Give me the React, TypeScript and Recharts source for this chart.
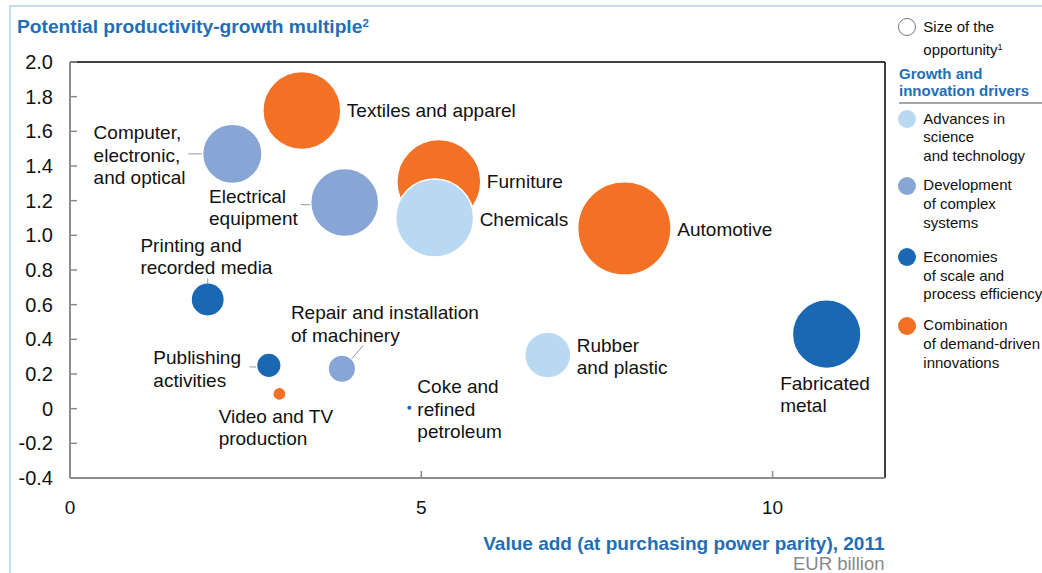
import React from 'react';
import {
  ScatterChart,
  Scatter,
  XAxis,
  YAxis,
  ZAxis,
  ReferenceLine
} from 'recharts';

// industries, value add (EUR bn), productivity-growth multiple, size of opportunity, driver
const INDUSTRIES = [
  'Textiles and apparel',
  'Furniture',
  'Automotive',
  'Video and TV production',
  'Chemicals',
  'Rubber and plastic',
  'Computer, electronic, and optical',
  'Electrical equipment',
  'Repair and installation of machinery',
  'Printing and recorded media',
  'Publishing activities',
  'Coke and refined petroleum',
  'Fabricated metal'
];
const VALUE_ADD = [3.3, 5.25, 7.89, 2.98, 5.19, 6.8, 2.31, 3.91, 3.87, 1.96, 2.83, 4.83, 10.77];
const MULTIPLE = [1.72, 1.31, 1.04, 0.085, 1.1, 0.31, 1.47, 1.19, 0.23, 0.63, 0.25, 0.005, 0.43];
const OPPORTUNITY = [76, 88.2, 109, 2.2, 76, 26.5, 44.1, 57.8, 9.5, 13.9, 7.6, 0.2, 58.8];
const DRIVER = [3, 3, 3, 3, 0, 0, 1, 1, 1, 2, 2, 2, 2];

const DRIVERS = [
  ['Advances in', 'science', 'and technology'],
  ['Development', 'of complex', 'systems'],
  ['Economies', 'of scale and', 'process efficiency'],
  ['Combination', 'of demand-driven', 'innovations']
];
const DRIVER_COLORS = ['#B9D8F1', '#87A5D5', '#1B68B2', '#F37124'];
const DRAW_ORDER = [3, 0, 1, 2];

const X_TICKS = [0, 5, 10];
const Y_TICKS = [-0.4, -0.2, 0, 0.2, 0.4, 0.6, 0.8, 1.0, 1.2, 1.4, 1.6, 1.8, 2.0];

const rows = INDUSTRIES.map((name, i) => ({
  name,
  x: VALUE_ADD[i],
  y: MULTIPLE[i],
  z: OPPORTUNITY[i],
  driver: DRIVER[i]
}));

// label placement, offsets from the bubble centre
const LABELS: Record<string, { dx: number; dy: number; lines: string[]; leader?: number[] }> = {
  'Textiles and apparel': { dx: 45, dy: 0, lines: ['Textiles and apparel'] },
  'Furniture': { dx: 48, dy: 0, lines: ['Furniture'] },
  'Chemicals': { dx: 45, dy: 1, lines: ['Chemicals'] },
  'Automotive': { dx: 53, dy: 1.5, lines: ['Automotive'] },
  'Rubber and plastic': { dx: 29, dy: -9.5, lines: ['Rubber', 'and plastic'] },
  'Fabricated metal': { dx: -46.5, dy: 49.3, lines: ['Fabricated', 'metal'] },
  'Computer, electronic, and optical': {
    dx: -138.7, dy: -21.2, lines: ['Computer,', 'electronic,', 'and optical'], leader: [-44, 0, -30.5, 0]
  },
  'Electrical equipment': {
    dx: -135.7, dy: -6, lines: ['Electrical', 'equipment'], leader: [-44, 2.3, -34.3, 2.3]
  },
  'Printing and recorded media': {
    dx: -67.3, dy: -54.3, lines: ['Printing and', 'recorded media'], leader: [0, -21, 0, -16]
  },
  'Publishing activities': {
    dx: -115.5, dy: -7.4, lines: ['Publishing', 'activities'], leader: [-19.5, 1.6, -12.8, 1.6]
  },
  'Video and TV production': { dx: -60.7, dy: 22.4, lines: ['Video and TV', 'production'] },
  'Repair and installation of machinery': {
    dx: -51, dy: -56, lines: ['Repair and installation', 'of machinery'], leader: [9.7, -10, 21.3, -23.3]
  },
  'Coke and refined petroleum': { dx: 8, dy: -21.3, lines: ['Coke and', 'refined', 'petroleum'] }
};

const FONT = '"Liberation Sans", Arial, Helvetica, sans-serif';
const BLUE = '#1F6EB6';
const PLOT_LEFT = 70;
const PLOT_TOP = 62;
const PLOT_BOTTOM = 478;

const Bubble = (props: any) => {
  const { cx, cy, width, color } = props;
  const r = width / 2;
  if (r < 4) return <circle cx={cx} cy={cy} r={2} fill={color} />;
  return <circle cx={cx} cy={cy} r={r} fill={color} stroke="#fff" strokeWidth={1.5} />;
};

const BubbleLabel = (props: any) => {
  const { cx, cy, payload } = props;
  const l = LABELS[payload.name];
  if (!l) return <g />;
  return (
    <g>
      {l.leader && (
        <line
          x1={cx + l.leader[0]}
          y1={cy + l.leader[1]}
          x2={cx + l.leader[2]}
          y2={cy + l.leader[3]}
          stroke="#999"
          strokeWidth={1}
        />
      )}
      <text fontFamily={FONT} fontSize={19} fill="#111">
        {l.lines.map((s, i) => (
          <tspan key={i} x={cx + l.dx} y={cy + l.dy + i * 22.5 + 6.5}>
            {s}
          </tspan>
        ))}
      </text>
    </g>
  );
};

const XTick = (props: any) => {
  const { payload } = props;
  const c = payload.coordinate;
  return (
    <g>
      <line x1={c} x2={c} y1={PLOT_BOTTOM} y2={PLOT_BOTTOM - 7} stroke="#8c8c8c" strokeWidth={1.5} />
      <text x={c} y={PLOT_BOTTOM + 36} textAnchor="middle" fontFamily={FONT} fontSize={19} fill="#111">
        {payload.value}
      </text>
    </g>
  );
};

const YTick = (props: any) => {
  const { payload } = props;
  const c = payload.coordinate;
  const v = Number(payload.value);
  return (
    <g>
      <line x1={PLOT_LEFT} x2={PLOT_LEFT + 7} y1={c} y2={c} stroke="#8c8c8c" strokeWidth={1.5} />
      <text x={53} y={c + 7} textAnchor="end" fontFamily={FONT} fontSize={20} fill="#111">
        {Math.abs(v) < 1e-9 ? '0' : v.toFixed(1)}
      </text>
    </g>
  );
};

const abs = (left: number, top: number, extra: React.CSSProperties = {}): React.CSSProperties => ({
  position: 'absolute',
  left,
  top,
  whiteSpace: 'nowrap',
  ...extra
});

const App: React.FC = () => {
  return (
    <div
      style={{
        position: 'absolute',
        left: 0,
        top: 0,
        width: 1042,
        height: 573,
        overflow: 'hidden',
        background: '#fff',
        fontFamily: FONT
      }}
    >
      {/* light blue frame */}
      <div style={abs(10, 5, { width: 1032, height: 2, background: '#C3DDF2' })} />
      <div style={abs(9, 5, { width: 2, height: 568, background: '#C3DDF2' })} />

      <div style={abs(17, 12, { fontSize: 19.2, lineHeight: '22px', fontWeight: 'bold', color: BLUE })}>
        Potential productivity-growth multiple<sup style={{ fontSize: 11.5, verticalAlign: 6 }}>2</sup>
      </div>

      <ScatterChart width={1042} height={573} margin={{ top: PLOT_TOP, right: 157, bottom: 65, left: 0 }}>
        <XAxis
          type="number"
          dataKey="x"
          domain={[0, 11.6]}
          ticks={X_TICKS}
          height={30}
          tickLine={false}
          axisLine={{ stroke: '#8c8c8c', strokeWidth: 2 }}
          tick={<XTick />}
        />
        <YAxis
          type="number"
          dataKey="y"
          domain={[-0.4, 2.0]}
          ticks={Y_TICKS}
          width={PLOT_LEFT}
          tickLine={false}
          axisLine={{ stroke: '#8c8c8c', strokeWidth: 2 }}
          tick={<YTick />}
          interval={0}
        />
        <ZAxis type="number" dataKey="z" domain={[0, 110]} range={[0, Math.PI * 20 * 110]} />
        <ReferenceLine y={2.0} stroke="#000" strokeWidth={1.5} />
        <ReferenceLine x={11.6} stroke="#000" strokeWidth={1.5} />
        {DRAW_ORDER.map((d) => (
          <Scatter
            key={d}
            name={DRIVERS[d].join(' ')}
            data={rows.filter((r) => r.driver === d)}
            isAnimationActive={false}
            shape={(p: any) => <Bubble {...p} color={DRIVER_COLORS[d]} />}
          />
        ))}
        <Scatter
          name="labels"
          data={rows}
          isAnimationActive={false}
          legendType="none"
          shape={(p: any) => <BubbleLabel {...p} />}
        />
      </ScatterChart>

      <div
        style={abs(0, 533, {
          width: 884.5,
          textAlign: 'right',
          fontSize: 19,
          lineHeight: '22px',
          fontWeight: 'bold',
          color: BLUE
        })}
      >
        Value add (at purchasing power parity), 2011
      </div>
      <div style={abs(0, 553, { width: 884.5, textAlign: 'right', fontSize: 18.5, lineHeight: '22px', color: '#888' })}>
        EUR billion
      </div>

      {/* legend */}
      <div
        style={abs(898, 17.7, {
          width: 16,
          height: 16,
          borderRadius: '50%',
          border: '1px solid #777',
          background: '#fff'
        })}
      />
      <div style={abs(923.3, 16.7, { fontSize: 15, lineHeight: '20px', color: '#111' })}>
        Size of the
        <br />
        opportunity<sup style={{ fontSize: 9, verticalAlign: 5 }}>1</sup>
      </div>
      <div style={abs(899, 64.6, { fontSize: 15, lineHeight: '17.4px', fontWeight: 'bold', color: BLUE })}>
        Growth and
        <br />
        innovation drivers
      </div>
      <div style={abs(899, 101.7, { width: 143, height: 2, background: '#A6A6A6' })} />
      {DRIVERS.map((lines, i) => {
        const cy = [119, 185.7, 257.3, 325.7][i];
        return (
          <React.Fragment key={i}>
            <div
              style={abs(898.3, cy - 9, {
                width: 18,
                height: 18,
                borderRadius: '50%',
                background: DRIVER_COLORS[i]
              })}
            />
            <div style={abs(923.3, cy - 9.4, { fontSize: 15, lineHeight: '18.8px', color: '#111' })}>
              {lines.map((s, j) => (
                <div key={j}>{s}</div>
              ))}
            </div>
          </React.Fragment>
        );
      })}
    </div>
  );
};

export default App;
